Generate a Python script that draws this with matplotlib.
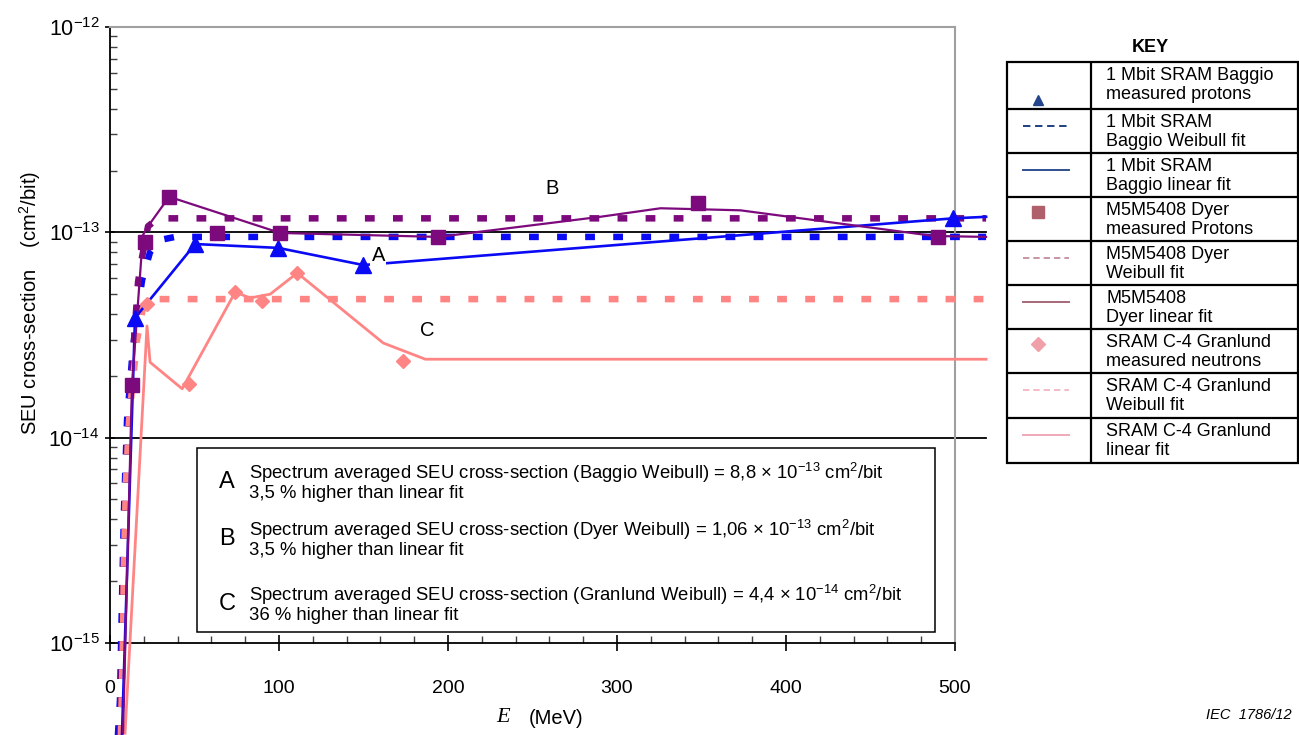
import matplotlib
matplotlib.use("Agg")
import matplotlib.pyplot as plt
from matplotlib.patches import Rectangle
from matplotlib.ticker import MultipleLocator, FixedLocator, NullFormatter

plt.rcParams["font.family"] = ["Liberation Sans", "DejaVu Sans"]
plt.rcParams["mathtext.fontset"] = "custom"
plt.rcParams["mathtext.rm"] = "Liberation Sans"
plt.rcParams["mathtext.it"] = "Liberation Sans:italic"

# ---- data (E in MeV, cross-section in cm2/bit) ----
baggio_meas_E = [14.8, 50.4, 99.5, 149.9, 499]
baggio_meas_s = [3.83e-14, 8.77e-14, 8.4e-14, 6.93e-14, 1.17e-13]
baggio_lin_E = [7.1, 14.8, 50.4, 99.5, 149.9, 499, 518.4]
baggio_lin_s = [3.6e-16, 3.83e-14, 8.77e-14, 8.4e-14, 6.93e-14, 1.17e-13, 1.19e-13]
baggio_wb_E = [4.7, 5.9, 7.1, 8.3, 10.1, 13.0, 15.4, 19.0, 23.7, 29.6, 38.5, 518.4]
baggio_wb_s = [3.56e-16, 5.27e-16, 1.62e-15, 4.44e-15, 1.22e-14, 2.39e-14,
               3.74e-14, 5.86e-14, 8.02e-14, 9.18e-14, 9.5e-14, 9.5e-14]

dyer_meas_E = [13.0, 20.7, 35.0, 63.4, 100.7, 194.3, 347.7, 489.9]
dyer_meas_s = [1.80e-14, 8.97e-14, 1.49e-13, 9.93e-14, 9.93e-14, 9.5e-14, 1.39e-13, 9.5e-14]
dyer_lin_E = [7.7, 13.0, 19.5, 22.5, 35.0, 100.7, 194.3, 290, 325.8, 373, 487.6, 518.4]
dyer_lin_s = [3.64e-16, 1.80e-14, 9.7e-14, 1.07e-13, 1.49e-13, 9.93e-14, 9.5e-14,
              1.19e-13, 1.31e-13, 1.28e-13, 9.6e-14, 9.5e-14]
dyer_wb_E = [5.9, 8.3, 10.1, 13.0, 16.6, 19.0, 22.5, 28.4, 518.4]
dyer_wb_s = [3.56e-16, 2.53e-15, 7.8e-15, 2.13e-14, 5.73e-14, 7.59e-14, 1.07e-13,
             1.17e-13, 1.17e-13]

gran_meas_E = [21.9, 46.8, 74.1, 90.0, 110.8, 173.6]
gran_meas_s = [4.48e-14, 1.82e-14, 5.12e-14, 4.63e-14, 6.34e-14, 2.36e-14]
gran_lin_E = [8.9, 21.9, 23.7, 42.7, 74.1, 82.9, 94.8, 110.8, 161.7, 186.6, 518.4]
gran_lin_s = [3.64e-16, 3.5e-14, 2.33e-14, 1.73e-14, 5.12e-14, 4.79e-14, 5.0e-14,
              6.34e-14, 2.89e-14, 2.41e-14, 2.41e-14]
gran_wb_E = [6.5, 7.7, 8.3, 9.5, 11.3, 13.6, 16.0, 19.5, 23.7, 518.4]
gran_wb_s = [3.56e-16, 1.03e-15, 2.53e-15, 6.2e-15, 1.22e-14, 1.91e-14, 2.99e-14,
             4.28e-14, 4.73e-14, 4.73e-14]

curve_labels = ["A", "B", "C"]
curve_label_E = [158.8, 261.3, 187.8]
curve_label_s = [7.74e-14, 1.64e-13, 3.34e-14]

x_ticks = [0, 100, 200, 300, 400, 500]
y_ticks = [1e-15, 1e-14, 1e-13, 1e-12]

box_letters = ["A", "B", "C"]
box_line1 = [
    r"Spectrum averaged SEU cross-section (Baggio Weibull) = 8,8 $\times$ 10$^{-13}$ cm$^{2}$/bit",
    r"Spectrum averaged SEU cross-section (Dyer Weibull) = 1,06 $\times$ 10$^{-13}$ cm$^{2}$/bit",
    r"Spectrum averaged SEU cross-section (Granlund Weibull) = 4,4 $\times$ 10$^{-14}$ cm$^{2}$/bit",
]
box_line2 = ["3,5 % higher than linear fit", "3,5 % higher than linear fit",
             "36 % higher than linear fit"]

key_labels = [
    "1 Mbit SRAM Baggio\nmeasured protons",
    "1 Mbit SRAM\nBaggio Weibull fit",
    "1 Mbit SRAM\nBaggio linear fit",
    "M5M5408 Dyer\nmeasured Protons",
    "M5M5408 Dyer\nWeibull fit",
    "M5M5408\nDyer linear fit",
    "SRAM C-4 Granlund\nmeasured neutrons",
    "SRAM C-4 Granlund\nWeibull fit",
    "SRAM C-4 Granlund\nlinear fit",
]

BLUE = "#0a0af5"
PURPLE = "#7d0a7d"
PINK = "#ff8585"

W, H = 1299, 735
fig = plt.figure(figsize=(W / 100, H / 100), dpi=100)


def fx(px):
    return px / W


def fy(py):
    return 1 - py / H


ax = fig.add_axes([fx(110), fy(643), fx(955) - fx(110), fy(27) - fy(643)])
ax.set_yscale("log")
ax.set_xlim(0, 500)
ax.set_ylim(1e-15, 1e-12)

wb_kw = dict(lw=4.7, ls=(0, (1.5, 2.8)), dash_capstyle="butt", clip_on=False)
ax.plot(baggio_wb_E, baggio_wb_s, color=BLUE, zorder=3, **wb_kw)
ax.plot(dyer_wb_E, dyer_wb_s, color=PURPLE, zorder=3, **wb_kw)
ax.plot(gran_wb_E, gran_wb_s, color=PINK, zorder=3, **wb_kw)

ax.plot(gran_lin_E, gran_lin_s, color=PINK, lw=2.0, clip_on=False, zorder=4)
ax.plot(baggio_lin_E, baggio_lin_s, color=BLUE, lw=1.9, clip_on=False, zorder=4)
ax.plot(dyer_lin_E, dyer_lin_s, color=PURPLE, lw=1.6, clip_on=False, zorder=4)

ax.plot(gran_meas_E, gran_meas_s, ls="none", marker="D", ms=7.5, color=PINK, zorder=5)
ax.plot(baggio_meas_E, baggio_meas_s, ls="none", marker="^", ms=11, color=BLUE,
        zorder=5, clip_on=False)
ax.plot(dyer_meas_E, dyer_meas_s, ls="none", marker="s", ms=10.5, color=PURPLE, zorder=5)

for lab, e, s in zip(curve_labels, curve_label_E, curve_label_s):
    ax.text(e, s, lab, fontsize=14.5, ha="center", va="center", zorder=6,
            bbox=dict(fc="white", ec="none", pad=1) if lab == "A" else None)

# reference decade lines running past the frame like in the original
for level in (1e-13, 1e-14):
    ax.axhline(level, xmin=0, xmax=518.4 / 500, color="black", lw=1.3,
               clip_on=False, zorder=2)

for side in ("top", "right"):
    ax.spines[side].set_color("#a0a0a0")
    ax.spines[side].set_linewidth(1.5)
ax.spines["left"].set_linewidth(1.3)
ax.spines["bottom"].set_linewidth(1.3)

ax.xaxis.set_major_locator(FixedLocator(x_ticks))
ax.xaxis.set_minor_locator(MultipleLocator(20))
ax.yaxis.set_major_locator(FixedLocator(y_ticks))
minor_y = [m * d for d in y_ticks[:-1] for m in range(2, 10)]
ax.yaxis.set_minor_locator(FixedLocator(minor_y))
ax.yaxis.set_minor_formatter(NullFormatter())
ax.set_yticklabels([r"$\mathdefault{10^{-%d}}$" % k for k in (15, 14, 13, 12)])
ax.tick_params(axis="x", which="major", direction="inout", length=11, width=1.2,
               labelsize=14, pad=21)
ax.tick_params(axis="x", which="minor", direction="in", length=5, width=1, color="#404040")
ax.tick_params(axis="y", which="major", direction="inout", length=7, width=1.2,
               labelsize=15.5, pad=4)
ax.tick_params(axis="y", which="minor", direction="in", length=5, width=1, color="#404040")

fig.text(fx(30), fy(303), "SEU cross-section    (cm$^{2}$/bit)", rotation=90,
         ha="center", va="center", fontsize=14.5)
fig.text(fx(503), fy(718), "E", family="Liberation Serif", style="italic",
         ha="center", va="center", fontsize=16)
fig.text(fx(556), fy(718), "(MeV)", ha="center", va="center", fontsize=14.5)
fig.text(fx(1292), fy(715), "IEC  1786/12", style="italic", ha="right", va="center",
         fontsize=10.5)

# annotation box
fig.add_artist(Rectangle((fx(197), fy(632)), fx(935) - fx(197), fy(448) - fy(632),
                         transform=fig.transFigure, fill=False, ec="black", lw=1.1))
for i, (letter, l1, l2) in enumerate(zip(box_letters, box_line1, box_line2)):
    top = [473, 530, 595][i]
    fig.text(fx(227), fy(top + 9), letter, ha="center", va="center", fontsize=17)
    fig.text(fx(249), fy(top), l1, ha="left", va="center", fontsize=13.3)
    fig.text(fx(249), fy(top + 20.5), l2, ha="left", va="center", fontsize=13.3)

# KEY table
fig.text(fx(1150), fy(48), "KEY", ha="center", va="center", fontsize=13,
         fontweight="bold")
kax = fig.add_axes([fx(1007), fy(463), fx(1298) - fx(1007), fy(62) - fy(463)])
kax.set_xlim(0, 291)
kax.set_ylim(401, 0)
kax.axis("off")
row_edges = [0, 47, 91, 135, 179, 223, 267, 311, 356, 401]
kax.add_patch(Rectangle((0, 0), 291, 401, fill=False, ec="black", lw=1.6, clip_on=False))
kax.hlines(row_edges[1:-1], 0, 291, color="black", lw=1.6)
kax.vlines(84, 0, 401, color="black", lw=1.6)

key_styles = [
    dict(marker="^", color="#24448c", ms=7),
    dict(ls=(0, (3.8, 2.4)), color="#1f3f80", lw=1.4),
    dict(ls="-", color="#2f4f8f", lw=1.4),
    dict(marker="s", color="#b0606a", ms=9),
    dict(ls=(0, (3.8, 2.4)), color="#c08494", lw=1.2),
    dict(ls="-", color="#a86878", lw=1.4),
    dict(marker="D", color="#f0a0a8", ms=7),
    dict(ls=(0, (3.8, 2.4)), color="#f0b0bc", lw=1.2),
    dict(ls="-", color="#f0a8b8", lw=1.4),
]
for i, (lab, st) in enumerate(zip(key_labels, key_styles)):
    r0, r1 = row_edges[i], row_edges[i + 1]
    if "marker" in st:
        yy = r0 + (0.8 if st["marker"] == "^" else 0.33) * (r1 - r0)
        kax.plot([31], [yy], ls="none", **st)
    else:
        yy = r0 + 0.38 * (r1 - r0)
        kax.plot([16, 62], [yy, yy], **st)
    kax.text(99, r0 + 23, lab, ha="left", va="center", fontsize=13, linespacing=1.15)

fig.savefig("out.png", dpi=100)
